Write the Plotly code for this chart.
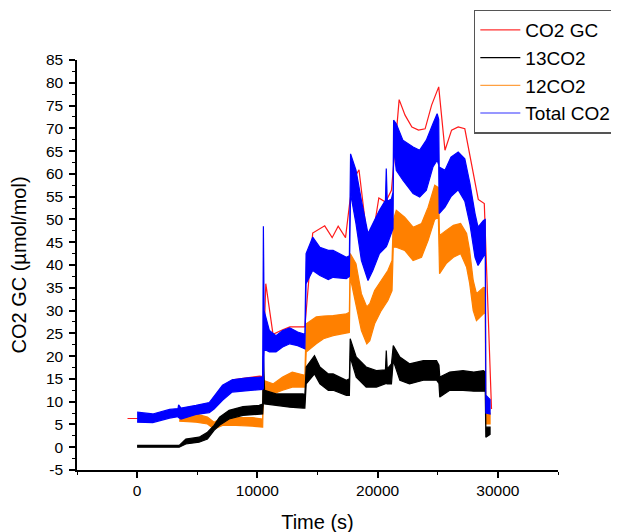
import plotly.graph_objects as go

# ---------------- data ----------------
# CO2 GC (discrete GC measurements, connected)
gc_t = [-800, 0, 2000, 4000, 6000, 7000, 7950, 10200, 10450, 10700, 11300, 12100, 12700,
        13950, 14600, 15600, 16220, 16720, 17330, 17670, 17950, 18450, 19070, 19550,
        20100, 20660, 21150, 21790, 22280, 22850, 23400, 23950, 24490, 25080, 25600,
        26150, 26700, 27250, 27680, 28370, 28870, 29470]
gc_v = [6.3, 6.3, 6.6, 7.5, 8.5, 12.0, 14.8, 15.6, 15.5, 35.9, 24.8, 25.8, 26.4,
        26.4, 47.0, 48.6, 46.0, 48.5, 46.0, 53.5, 58.6, 60.9, 47.2, 45.6,
        54.7, 53.8, 56.4, 76.3, 72.9, 70.3, 69.6, 69.9, 75.1, 79.1, 65.2,
        69.6, 70.3, 69.9, 63.7, 54.4, 53.5, 8.4]

# 13CO2: time and lower / upper edge of the noisy trace
c13_t = [0, 3500, 4050, 5150, 5850, 6400, 6850, 7650, 8800, 10150, 10440, 10500, 10600,
         11550, 12700, 13800, 13950, 14060, 14750, 15200, 15900, 16300, 17400, 17650,
         17720, 18220, 19050, 19900, 20650, 20720, 20800, 21150, 21300, 21850, 22650,
         23800, 24900, 25100, 25170, 26000, 27100, 28000, 28800, 28950, 29000, 29350]
c13_lo = [0.0, 0.0, 0.7, 1.1, 1.8, 3.7, 4.8, 6.2, 7.0, 7.3, 7.3, 10.0, 9.5,
          9.2, 8.8, 8.6, 8.6, 13.9, 16.1, 13.9, 12.5, 12.5, 11.4, 11.4,
          19.8, 15.4, 13.2, 13.2, 13.9, 14.0, 13.9, 13.9, 19.0, 14.7, 13.9,
          14.7, 14.7, 14.0, 11.0, 12.5, 12.5, 12.3, 12.3, 12.3, 2.2, 2.8]
c13_hi = [0.4, 0.4, 1.8, 2.2, 3.3, 4.8, 6.6, 8.1, 8.9, 9.2, 9.5, 20.0, 12.5,
          11.7, 11.7, 11.7, 11.5, 17.6, 20.1, 17.6, 16.1, 16.1, 14.7, 15.0,
          23.8, 19.8, 17.6, 16.8, 17.0, 21.2, 17.2, 18.3, 22.3, 19.8, 18.3,
          19.0, 19.0, 18.0, 15.4, 16.5, 16.8, 16.5, 16.8, 16.5, 4.4, 4.4]

# 12CO2
c12_t = [3500, 4900, 5850, 6400, 7100, 8200, 9600, 10440, 10500, 11300, 12100, 12900,
         13950, 14060, 14900, 15500, 16300, 17400, 17650, 17720, 18200, 18650, 19100,
         19350, 19750, 20300, 20850, 21200, 21300, 21550, 22250, 22950, 23650, 24200,
         24750, 25050, 25150, 25700, 26300, 26900, 27400, 27650, 27950, 28220, 28800,
         28950, 29000, 29350]
c12_lo = [5.7, 5.5, 5.1, 4.0, 4.8, 4.8, 4.6, 4.4, 11.7, 11.7, 12.5, 13.2,
          13.2, 20.9, 22.7, 23.8, 24.5, 25.0, 25.2, 37.3, 31.5, 25.6, 22.7,
          23.4, 27.1, 30.0, 32.2, 34.4, 43.9, 43.9, 43.2, 41.0, 41.7, 45.4,
          50.0, 50.5, 38.1, 40.3, 41.7, 42.5, 39.5, 36.0, 30.0, 27.8, 29.3,
          29.5, 5.1, 5.1]
c12_hi = [7.0, 7.3, 6.6, 5.5, 6.5, 6.5, 6.5, 6.2, 14.7, 13.9, 15.4, 16.5,
          15.8, 27.1, 28.6, 28.8, 28.9, 29.3, 29.6, 42.5, 40.3, 33.7, 30.8,
          31.5, 34.4, 36.6, 38.8, 41.0, 49.8, 52.0, 50.5, 48.3, 49.1, 52.7,
          57.5, 57.0, 46.5, 47.6, 48.7, 49.1, 46.9, 43.2, 36.6, 33.7, 35.1,
          35.0, 8.1, 7.5]

# Total CO2
tot_t = [0, 1300, 2700, 3400, 3450, 3650, 4900, 6000, 6400, 7100, 7900, 9000, 10300,
         10440, 10500, 10560, 11000, 11550, 12100, 12700, 13350, 13950, 14050, 14600,
         15200, 15900, 16300, 17400, 17650, 17750, 18200, 18650, 19200, 19600, 20150,
         20650, 20720, 20800, 21150, 21280, 21330, 21550, 22100, 22950, 23500, 24050,
         24600, 24950, 25080, 25120, 25600, 26100, 26700, 27250, 27670, 28100, 28350,
         28800, 28950, 29000, 29350]
tot_lo = [5.5, 5.4, 6.4, 6.7, 6.5, 6.2, 7.2, 7.6, 8.4, 10.3, 12.1, 12.4, 12.7,
          12.7, 13.0, 21.5, 20.9, 20.9, 22.0, 22.7, 22.3, 21.6, 35.9, 38.8,
          37.7, 36.8, 37.3, 37.0, 37.5, 55.7, 49.1, 41.0, 36.6, 38.8, 42.5,
          43.9, 44.0, 44.5, 47.0, 48.0, 65.9, 60.8, 58.6, 55.7, 54.9, 56.4,
          61.5, 63.0, 62.0, 51.3, 52.7, 55.0, 56.5, 54.0, 49.0, 41.7, 39.9,
          41.7, 42.5, 7.5, 7.3]
tot_hi = [7.7, 7.3, 8.3, 8.5, 9.3, 8.6, 9.2, 9.8, 11.0, 13.6, 14.8, 15.2, 15.4,
          15.4, 48.5, 30.0, 25.6, 24.5, 25.6, 26.2, 25.3, 24.8, 42.5, 46.1,
          43.9, 43.2, 43.2, 41.7, 42.0, 64.4, 60.8, 54.2, 46.9, 49.1, 52.0,
          54.2, 61.2, 54.0, 54.5, 56.0, 71.8, 71.0, 67.4, 65.9, 65.2, 67.4,
          71.0, 73.2, 72.0, 61.5, 60.8, 63.7, 64.8, 63.3, 58.0, 51.3, 48.3,
          49.8, 50.0, 11.4, 10.5]

series_names = ["CO2 GC", "13CO2", "12CO2", "Total CO2"]

x_ticks = [0, 10000, 20000, 30000]
x_labels = ["0", "10000", "20000", "30000"]
y_ticks = list(range(-5, 90, 5))
y_labels = [str(v) for v in y_ticks]

RED, BLACK, ORANGE, BLUE = "#ff1a1a", "#000000", "#ff8000", "#0000ff"
LEG_COLORS = ["#ff3030", "#000000", "#ffa040", "#3030ff"]
FONT = "Arial, 'Liberation Sans', sans-serif"

fig = go.Figure()

fig.add_trace(go.Scatter(x=gc_t, y=gc_v, mode="lines", name="CO2 GC", showlegend=False,
                         line=dict(color=RED, width=1.2)))


def band(t, lo, hi, name, color):
    # closed outline: lower edge forward, upper edge backward
    xs = list(t) + list(t)[::-1]
    ys = list(lo) + list(hi)[::-1]
    fig.add_trace(go.Scatter(x=xs, y=ys, mode="lines", name=name, showlegend=False,
                             line=dict(color=color, width=1.2), fill="toself",
                             fillcolor=color))


band(c12_t, c12_lo, c12_hi, "12CO2", ORANGE)
band(c13_t, c13_lo, c13_hi, "13CO2", BLACK)
band(tot_t, tot_lo, tot_hi, "Total CO2", BLUE)

# legend entries (plain line samples, no data)
for name, col in zip(series_names, LEG_COLORS):
    fig.add_trace(go.Scatter(x=[None], y=[None], mode="lines", name=name,
                             line=dict(color=col, width=1.2), showlegend=True))

fig.update_layout(
    width=619, height=532,
    margin=dict(l=69, r=69, t=52, b=70, autoexpand=False),
    paper_bgcolor="white", plot_bgcolor="white",
    font=dict(family=FONT, color="black", size=15),
    legend=dict(x=0.825, y=1.123, xanchor="left", yanchor="top",
                traceorder="normal",
                bgcolor="white", bordercolor="#555555", borderwidth=1.5,
                font=dict(size=19, family=FONT, color="black"),
                itemwidth=40, tracegroupgap=0),
    xaxis=dict(range=[-5000, 35000], tickvals=x_ticks, ticktext=x_labels,
               ticks="outside", ticklen=6,
               tickwidth=1.5, tickcolor="black", showline=True, linecolor="black",
               linewidth=1.5, showgrid=False, zeroline=False,
               tickfont=dict(size=15.5),
               minor=dict(dtick=5000, ticks="outside", ticklen=3.5, tickwidth=1.2,
                          tickcolor="black"),
               title=dict(text="Time (s)", font=dict(size=20), standoff=17)),
    yaxis=dict(range=[-5, 85], tickvals=y_ticks, ticktext=y_labels,
               ticks="outside", ticklen=6,
               tickwidth=1.5, tickcolor="black", showline=True, linecolor="black",
               linewidth=1.5, showgrid=False, zeroline=False,
               tickfont=dict(size=15.5), ticklabelstandoff=3,
               minor=dict(dtick=2.5, ticks="outside", ticklen=3.5, tickwidth=1.2,
                          tickcolor="black"),
               title=dict(text="CO2 GC (µmol/mol)", font=dict(size=20), standoff=14)),
)

fig.write_html("out.html")
